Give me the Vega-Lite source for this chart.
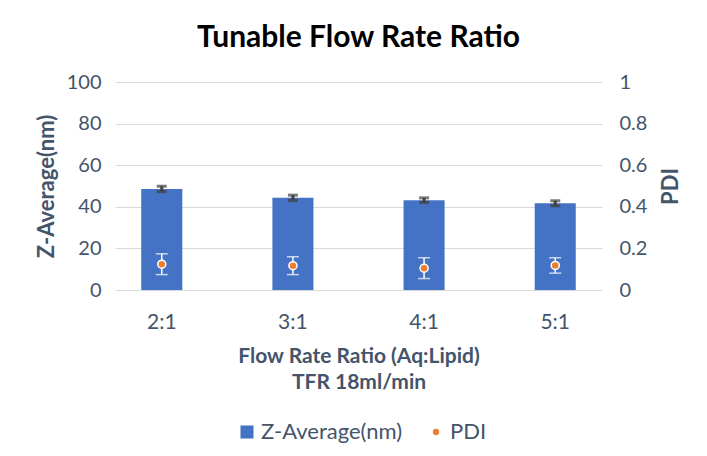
{
  "$schema": "https://vega.github.io/schema/vega-lite/v6.json",
  "autosize": {"type": "none"},
  "width": 487,
  "height": 208,
  "padding": {"left": 115, "top": 82, "right": 105, "bottom": 166},
  "background": "white",
  "config": {
    "font": "Lato",
    "view": {"stroke": null}
  },
  "title": {
    "text": "Tunable Flow Rate Ratio",
    "fontSize": 30,
    "font": "Lato",
    "fontWeight": "bold",
    "color": "#000000",
    "anchor": "middle",
    "frame": "group",
    "offset": 19
  },
  "data": {
    "values": [
      {"ratio": "2:1", "z": 48.6, "z_err": 1.3, "pdi": 0.124, "pdi_err": 0.05},
      {"ratio": "3:1", "z": 44.3, "z_err": 1.3, "pdi": 0.117, "pdi_err": 0.043},
      {"ratio": "4:1", "z": 43.2, "z_err": 1.1, "pdi": 0.105, "pdi_err": 0.05},
      {"ratio": "5:1", "z": 41.7, "z_err": 1.2, "pdi": 0.118, "pdi_err": 0.037}
    ]
  },
  "encoding": {
    "x": {
      "field": "ratio",
      "type": "nominal",
      "sort": null,
      "scale": {"paddingInner": 0.687, "paddingOuter": 0.2},
      "axis": {
        "title": ["Flow Rate Ratio (Aq:Lipid)", "TFR 18ml/min"],
        "labelAngle": 0,
        "ticks": false,
        "domain": false,
        "labelPadding": 21,
        "labelFontSize": 21,
        "labelFont": "Lato",
        "labelColor": "#44546A",
        "titleFontSize": 21,
        "titleFont": "Lato",
        "titleFontWeight": "bold",
        "titleColor": "#44546A",
        "titleLineHeight": 26,
        "titleBaseline": "top",
        "titleY": 55
      }
    }
  },
  "layer": [
    {
      "layer": [
        {
          "mark": {"type": "bar"},
          "encoding": {
            "y": {
              "field": "z",
              "type": "quantitative",
              "scale": {"domain": [0, 100], "nice": false},
              "axis": {
                "title": "Z-Average(nm)",
                "values": [0, 20, 40, 60, 80, 100],
                "grid": true,
                "gridColor": "#D9D9D9",
                "gridWidth": 1,
                "ticks": false,
                "domain": false,
                "labelPadding": 14,
                "labelFontSize": 20,
                "labelFont": "Lato",
                "labelColor": "#44546A",
                "titleFontSize": 22,
                "titleFont": "Lato",
                "titleFontWeight": "bold",
                "titleColor": "#44546A",
                "titleAngle": -90,
                "titleX": -69,
                "titleY": 104,
                "titleAlign": "center",
                "titleBaseline": "middle"
              }
            },
            "color": {
              "datum": "Z-Average(nm)",
              "type": "nominal",
              "scale": {"domain": ["Z-Average(nm)", "PDI"], "range": ["#4472C4", "#ED7D31"]},
              "legend": {
                "title": null,
                "orient": "none",
                "legendX": 121,
                "legendY": 339,
                "direction": "horizontal",
                "labelFontSize": 22,
                "labelFont": "Lato",
                "labelColor": "#44546A",
                "symbolOpacity": 1,
                "columnPadding": 22,
                "labelOffset": 3,
                "encode": {
                  "symbols": {
                    "update": {
                      "shape": {"signal": "datum.value === 'PDI' ? 'circle' : 'square'"},
                      "size": {"signal": "datum.value === 'PDI' ? 40 : 170"},
                      "strokeWidth": {"value": 0}
                    }
                  }
                }
              }
            }
          }
        },
        {
          "mark": {"type": "errorbar", "color": "#404040", "thickness": 3, "ticks": {"size": 10, "thickness": 3}},
          "encoding": {
            "y": {"field": "z", "type": "quantitative", "title": "Z-Average(nm)"},
            "yError": {"field": "z_err"}
          }
        }
      ]
    },
    {
      "layer": [
        {
          "mark": {"type": "errorbar", "color": "white", "thickness": 1.5, "ticks": {"size": 12, "thickness": 1.5}},
          "encoding": {
            "y": {
              "field": "pdi",
              "type": "quantitative",
              "scale": {"domain": [0, 1], "nice": false},
              "axis": {
                "orient": "right",
                "title": "PDI",
                "values": [0, 0.2, 0.4, 0.6, 0.8, 1],
                "format": "~g",
                "grid": false,
                "ticks": false,
                "domain": false,
                "labelPadding": 17,
                "labelFontSize": 20,
                "labelFont": "Lato",
                "labelColor": "#44546A",
                "titleFontSize": 22,
                "titleFont": "Lato",
                "titleFontWeight": "bold",
                "titleColor": "#44546A",
                "titleAngle": -90,
                "titleX": 68,
                "titleY": 104,
                "titleAlign": "center",
                "titleBaseline": "middle"
              }
            },
            "yError": {"field": "pdi_err"}
          }
        },
        {
          "mark": {"type": "point", "filled": true, "stroke": "white", "strokeWidth": 1.5, "size": 65, "opacity": 1},
          "encoding": {
            "y": {"field": "pdi", "type": "quantitative", "title": "PDI"},
            "color": {"datum": "PDI", "type": "nominal"}
          }
        }
      ]
    }
  ],
  "resolve": {"scale": {"y": "independent"}}
}
